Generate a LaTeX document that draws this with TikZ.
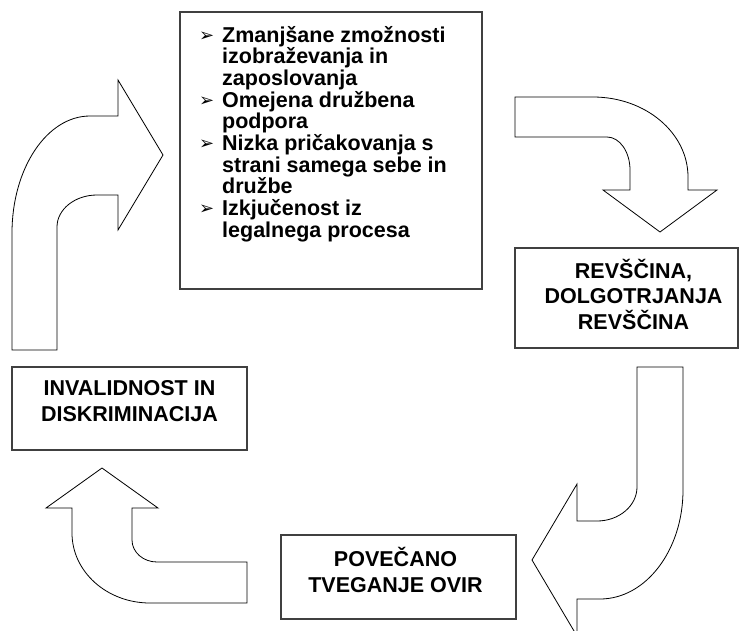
\documentclass[tikz,border=0pt]{standalone}
\usepackage{fontspec}
\setmainfont{Liberation Sans}
\newfontfamily\dingfont{DejaVu Sans}

\begin{document}
\begin{tikzpicture}[
	x=1pt, y=-1pt,
	box/.style={draw=black!75, line width=1.2pt, inner sep=0pt},
	boxtext/.style={align=center, inner sep=0pt, font=\bfseries\fontsize{21.5}{25.5}\selectfont},
	listline/.style={anchor=base west, inner sep=0pt, font=\bfseries\fontsize{21.5}{21.7}\selectfont},
	listbullet/.style={anchor=base west, inner sep=0pt, font=\dingfont\fontsize{18}{18}\selectfont},
	bigarrow/.style={draw=black, line width=0.8pt, fill=white}
]
\useasboundingbox (0,0) rectangle (739,630);

% boxes
\node[box, minimum width=302pt, minimum height=277pt] (causes) at (331,150.5) {};
\node[box, minimum width=223pt, minimum height=100pt] (poverty) at (626.5,298) {};
\node[box, minimum width=235pt, minimum height=84pt] (risk) at (398.5,577) {};
\node[box, minimum width=235pt, minimum height=83pt] (disability) at (129.5,408.5) {};

\node[boxtext] (povertytext) at ([xshift=7pt, yshift=4pt]poverty.center) {REVŠČINA,\\DOLGOTRJANJA\\REVŠČINA};
\node[boxtext] (risktext) at ([xshift=-3pt, yshift=7pt]risk.center) {POVEČANO\\TVEGANJE OVIR};
\node[boxtext] (disabilitytext) at ([yshift=7.5pt]disability.center) {INVALIDNOST IN\\DISKRIMINACIJA};

% bullet list
\foreach \txt [count=\i] in {Zmanjšane zmožnosti, izobraževanja in, zaposlovanja,
	Omejena družbena, podpora, Nizka pričakovanja s, strani samega sebe in,
	družbe, Izkjučenost iz, legalnega procesa}
	\node[listline] (line\i) at (222,{42+(\i-1)*21.7}) {\txt};
\foreach \i in {1,4,6,9}
	\node[listbullet] (bullet\i) at (199,{41+(\i-1)*21.7}) {➢};

% block arrows
\draw[bigarrow] (12,350) -- (12,233)
	.. controls (12,168.4) and (46.9,116) .. (90,116)
	-- (118,116) -- (118,80) -- (163,155) -- (118,230) -- (118,195) -- (97,195)
	.. controls (74.9,195) and (57,209.3) .. (57,227)
	-- (57,350) -- cycle;
\draw[bigarrow] (515,97) -- (593,97)
	.. controls (645.5,97) and (688,132.8) .. (688,177)
	-- (688,190) -- (717,190) -- (660,232) -- (603,190) -- (630,190) -- (630,170)
	.. controls (630,151.8) and (619.7,137) .. (607,137)
	-- (515,137) -- cycle;
\draw[bigarrow] (637,367) -- (683,367) -- (683,490)
	.. controls (683,550.2) and (645.8,599) .. (600,599)
	-- (577,599) -- (577,636) -- (532,560) -- (577,484) -- (577,521) -- (597,521)
	.. controls (619.1,521) and (637,505.8) .. (637,487)
	-- cycle;
\draw[bigarrow] (247,562) -- (247,603) -- (150,603)
	.. controls (106.9,603) and (72,571.7) .. (72,533)
	-- (72,508) -- (46,508) -- (102,468) -- (158,508) -- (132,508) -- (132,540)
	.. controls (132,552.2) and (143.2,562) .. (157,562)
	-- cycle;
\end{tikzpicture}
\end{document}
